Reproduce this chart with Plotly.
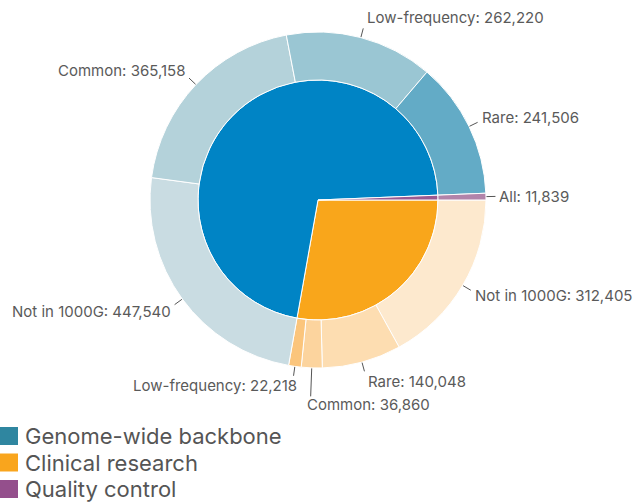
import math
import plotly.graph_objects as go

# ---- data ----
groups = ["Genome-wide backbone", "Clinical research", "Quality control"]
sub_labels = ["Not in 1000G", "Rare", "Common", "Low-frequency",
              "Not in 1000G", "Common", "Low-frequency", "Rare",
              "All"]
sub_group = [1, 1, 1, 1, 0, 0, 0, 0, 2]
sub_values = [312405, 140048, 36860, 22218,
              447540, 365158, 262220, 241506,
              11839]

# ---- styles ----
W, H = 642, 503
CX, CY = 318, 200          # pie centre (px)
R_OUT, R_IN = 168, 120     # radii (px)
group_colors = ["#0084C5", "#F9A61B", "#9A5A91"]
legend_colors = ["#2F86A0", "#F9A51D", "#944F8C"]
sub_colors = ["#FDE9CE", "#FDDDB1", "#FCD49E", "#FBC57C",
              "#C9DCE2", "#B4D2DA", "#9AC6D3", "#63ABC6",
              "#B284AA"]
FONT = "Inter, Roboto, sans-serif"
LABEL_COLOR = "#5a5a5a"

group_values = [sum(v for v, g in zip(sub_values, sub_group) if g == k) for k in range(3)]
# inner pie order follows outer ring order: clinical, backbone, qc
inner_order = [1, 0, 2]


def dom(r):
    return dict(x=[(CX - r) / W, (CX + r) / W], y=[1 - (CY + r) / H, 1 - (CY - r) / H])


fig = go.Figure()
fig.add_trace(go.Pie(
    labels=[groups[k] for k in inner_order],
    values=[group_values[k] for k in inner_order],
    marker=dict(colors=[group_colors[k] for k in inner_order], line=dict(color="white", width=1)),
    sort=False, direction="clockwise", rotation=90,
    textinfo="none", hoverinfo="label+value", domain=dom(R_IN), showlegend=False,
))
fig.add_trace(go.Pie(
    labels=[f"{l} ({groups[g]})" for l, g in zip(sub_labels, sub_group)],
    values=sub_values,
    marker=dict(colors=sub_colors, line=dict(color="white", width=1)),
    sort=False, direction="clockwise", rotation=90, hole=R_IN / R_OUT,
    textinfo="none", hoverinfo="label+value", domain=dom(R_OUT), showlegend=False,
))

# ---- outside labels with leader lines, positioned from the data angles ----
overrides = {2: dict(xanchor="left", length=28, dx=-5, dy=8), 3: dict(dx=4, dy=10)}
total = sum(sub_values)
cum = 0
annotations = []
shapes = []
for i, (lab, val) in enumerate(zip(sub_labels, sub_values)):
    mid = (cum + val / 2) / total * 2 * math.pi  # clockwise from east
    cum += val
    c, s = math.cos(mid), math.sin(mid)
    ov = overrides.get(i, {})
    L = ov.get("length", 9)
    r0 = R_OUT + 0.5
    x0, y0 = CX + r0 * c, CY + r0 * s
    x1, y1 = x0 + L * c, y0 + L * s
    shapes.append(dict(type="line", xref="paper", yref="paper",
                       x0=x0 / W, y0=1 - y0 / H, x1=x1 / W, y1=1 - y1 / H,
                       line=dict(color="#555555", width=1)))
    xa = ov.get("xanchor", "left" if c >= 0 else "right")
    dx = ov.get("dx", 3 if xa == "left" else -3)
    dy = ov.get("dy", 11 * s)
    annotations.append(dict(
        x=(x1 + dx) / W, y=1 - (y1 + dy) / H, xref="paper", yref="paper",
        text=f"{lab}: {val:,}", showarrow=False,
        xanchor=xa, yanchor="middle", borderpad=0,
        font=dict(family=FONT, size=15, color=LABEL_COLOR),
    ))

# ---- legend (drawn manually to match large squares) ----
for k, (name, col) in enumerate(zip(groups, legend_colors)):
    yc = 436 + k * 26.5
    shapes.append(dict(type="rect", xref="paper", yref="paper",
                       x0=0, x1=18 / W, y0=1 - (yc + 9) / H, y1=1 - (yc - 9) / H,
                       fillcolor=col, line=dict(width=0)))
    annotations.append(dict(x=23 / W, y=1 - yc / H, xref="paper", yref="paper",
                            text=name, showarrow=False, xanchor="left", yanchor="middle",
                            font=dict(family=FONT, size=22, color="#555555")))

fig.update_layout(
    width=W, height=H, margin=dict(l=0, r=0, t=0, b=0),
    paper_bgcolor="white", plot_bgcolor="white",
    annotations=annotations, shapes=shapes, showlegend=False,
)
fig.write_html("out.html")
